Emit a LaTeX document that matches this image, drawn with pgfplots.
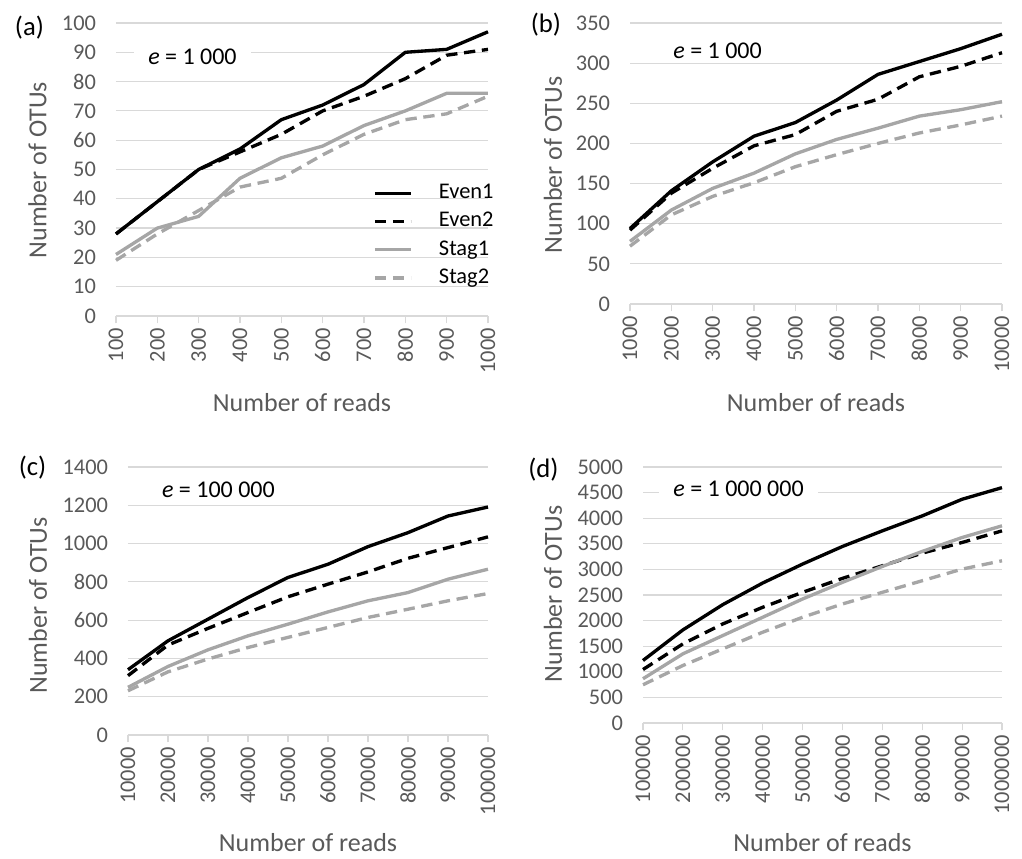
\documentclass[border=0pt]{standalone}
\usepackage{fontspec}
\setmainfont{Carlito}
\usepackage{pgfplots}
\pgfplotsset{compat=1.18}

\definecolor{txtgray}{HTML}{595959}
\definecolor{gridgray}{HTML}{D9D9D9}
\definecolor{sgray}{HTML}{A6A6A6}
\newcommand{\tfont}{\fontsize{16.8}{20}\selectfont}
\newcommand{\lfont}{\fontsize{19.5}{23.4}\selectfont}
\newcommand{\pfont}{\fontsize{20}{24}\selectfont}
\newcommand{\efont}{\fontsize{18}{21.6}\selectfont}

\tikzset{enote/.style={font=\efont, fill=white, inner xsep=11pt, inner ysep=2pt, anchor=base west, xshift=-11pt}}

\pgfplotsset{
  panel/.style={
    scale only axis, clip=false,
    ymin=0, xtick=data,
    separate axis lines,
    x axis line style={draw=gridgray, line width=0.9pt},
    y axis line style={draw=none},
    xtick pos=lower, ytick pos=left,
    tick align=outside, major tick length=5.5pt,
    xtick style={draw=gridgray, line width=0.9pt},
    ytick style={draw=none},
    ymajorgrids, grid style={gridgray, line width=0.9pt},
    scaled ticks=false,
    /pgf/number format/fixed,
    /pgf/number format/1000 sep={},
    /pgf/number format/assume math mode=true,
    tick label style={font=\tfont, text=txtgray},
    xticklabel style={rotate=90, anchor=east},
    yticklabel style={xshift=-6pt},
    label style={font=\lfont, text=txtgray},
  },
  even1/.style={black, line width=2.5pt, line join=round},
  even2/.style={black, line width=2.5pt, line join=round, dash pattern=on 8.5pt off 5pt},
  stag1/.style={sgray, line width=2.5pt, line join=round},
  stag2/.style={sgray, line width=2.5pt, line join=round, dash pattern=on 8.5pt off 5pt},
}

\begin{document}
\begin{tikzpicture}
\useasboundingbox (0pt,0pt) rectangle (766.5pt,643.5pt);

% (a)
\begin{axis}[panel,
  at={(87pt,406.5pt)}, anchor=south west,
  width=279pt, height=219.75pt,
  xmin=100, xmax=1000, ymax=100, ytick={0,10,...,100},
  xlabel={Number of reads}, ylabel={Number of OTUs},
  xlabel style={at={(axis description cs:0.5,-0.297)}, anchor=center},
  ylabel style={at={(axis description cs:-0.211,0.498)}, anchor=center},
  legend style={at={(rel axis cs:0.691,0.468)}, anchor=north west,
    draw=none, fill=none, inner sep=0pt, row sep=0pt, column sep=0pt,
    font=\tfont, text=black,
    nodes={inner xsep=0pt, inner ysep=3.1pt, text height=11.5pt, text depth=3.5pt}},
  legend cell align=left,
  legend image code/.code={\draw[#1] (0pt,0pt) -- (27pt,0pt); \path[draw=none, fill=none] (0pt,0pt) -- (48pt,0pt);},
]
\addplot[even1] coordinates {(100,28) (200,39) (300,50) (400,57) (500,67) (600,72) (700,79) (800,90) (900,91) (1000,97)};
\addplot[even2] coordinates {(100,28) (200,39) (300,50) (400,56) (500,62) (600,70) (700,75) (800,81) (900,89) (1000,91)};
\addplot[stag1] coordinates {(100,21) (200,30) (300,34) (400,47) (500,54) (600,58) (700,65) (800,70) (900,76) (1000,76)};
\addplot[stag2] coordinates {(100,19) (200,28) (300,36) (400,44) (500,47) (600,55) (700,62) (800,67) (900,69) (1000,75)};
\legend{Even1,Even2,Stag1,Stag2}
\node[enote] at (rel axis cs:0.086,0.857) {\textit{e} = 1 000};
\end{axis}

% (b)
\begin{axis}[panel,
  at={(472.5pt,415.5pt)}, anchor=south west,
  width=279pt, height=210.75pt,
  xmin=1000, xmax=10000, ymax=350, ytick={0,50,...,350},
  xlabel={Number of reads}, ylabel={Number of OTUs},
  xlabel style={at={(axis description cs:0.5,-0.352)}, anchor=center},
  ylabel style={at={(axis description cs:-0.207,0.495)}, anchor=center},
]
\addplot[even1] coordinates {(1000,94) (2000,141) (3000,177) (4000,209) (5000,226) (6000,254) (7000,286) (8000,302) (9000,318) (10000,336)};
\addplot[even2] coordinates {(1000,92) (2000,138) (3000,169) (4000,197) (5000,211) (6000,240) (7000,255) (8000,283) (9000,296) (10000,313)};
\addplot[stag1] coordinates {(1000,78) (2000,117) (3000,144) (4000,163) (5000,187) (6000,205) (7000,219) (8000,234) (9000,242) (10000,252)};
\addplot[stag2] coordinates {(1000,72) (2000,111) (3000,134) (4000,151) (5000,171) (6000,186) (7000,200) (8000,213) (9000,223) (10000,234)};
\node[enote] at (rel axis cs:0.116,0.875) {\textit{e} = 1 000};
\end{axis}

% (c)
\begin{axis}[panel,
  at={(96pt,92.25pt)}, anchor=south west,
  width=270pt, height=201pt,
  xmin=10000, xmax=100000, ymax=1400, ytick={0,200,...,1400},
  xlabel={Number of reads}, ylabel={Number of OTUs},
  xlabel style={at={(axis description cs:0.5,-0.403)}, anchor=center},
  ylabel style={at={(axis description cs:-0.25,0.483)}, anchor=center},
]
\addplot[even1] coordinates {(10000,341) (20000,492) (30000,605) (40000,718) (50000,823) (60000,892) (70000,984) (80000,1057) (90000,1144) (100000,1191)};
\addplot[even2] coordinates {(10000,310) (20000,470) (30000,557) (40000,640) (50000,722) (60000,788) (70000,852) (80000,923) (90000,979) (100000,1035)};
\addplot[stag1] coordinates {(10000,249) (20000,358) (30000,445) (40000,518) (50000,579) (60000,643) (70000,701) (80000,744) (90000,814) (100000,866)};
\addplot[stag2] coordinates {(10000,231) (20000,330) (30000,397) (40000,457) (50000,510) (60000,562) (70000,614) (80000,657) (90000,701) (100000,739)};
\node[enote] at (rel axis cs:0.094,0.888) {\textit{e} = 100 000};
\end{axis}

% (d)
\begin{axis}[panel,
  at={(482.25pt,101.25pt)}, anchor=south west,
  width=269.25pt, height=192pt,
  xmin=100000, xmax=1000000, ymax=5000, ytick={0,500,...,5000},
  xlabel={Number of reads}, ylabel={Number of OTUs},
  xlabel style={at={(axis description cs:0.5,-0.469)}, anchor=center},
  ylabel style={at={(axis description cs:-0.251,0.504)}, anchor=center},
]
\addplot[even1] coordinates {(100000,1221) (200000,1818) (300000,2312) (400000,2734) (500000,3104) (600000,3448) (700000,3753) (800000,4045) (900000,4370) (1000000,4597)};
\addplot[even2] coordinates {(100000,1045) (200000,1545) (300000,1935) (400000,2260) (500000,2552) (600000,2825) (700000,3071) (800000,3318) (900000,3526) (1000000,3753)};
\addplot[stag1] coordinates {(100000,864) (200000,1351) (300000,1708) (400000,2065) (500000,2422) (600000,2747) (700000,3058) (800000,3351) (900000,3623) (1000000,3851)};
\addplot[stag2] coordinates {(100000,747) (200000,1123) (300000,1448) (400000,1773) (500000,2065) (600000,2325) (700000,2552) (800000,2779) (900000,3006) (1000000,3169)};
\node[enote] at (rel axis cs:0.084,0.883) {\textit{e} = 1 000 000};
\end{axis}

\node[font=\pfont] at (22.1pt,622.9pt) {(a)};
\node[font=\pfont] at (409.5pt,624.75pt) {(b)};
\node[font=\pfont] at (24.4pt,292.9pt) {(c)};
\node[font=\pfont] at (407.6pt,291pt) {(d)};
\end{tikzpicture}
\end{document}
